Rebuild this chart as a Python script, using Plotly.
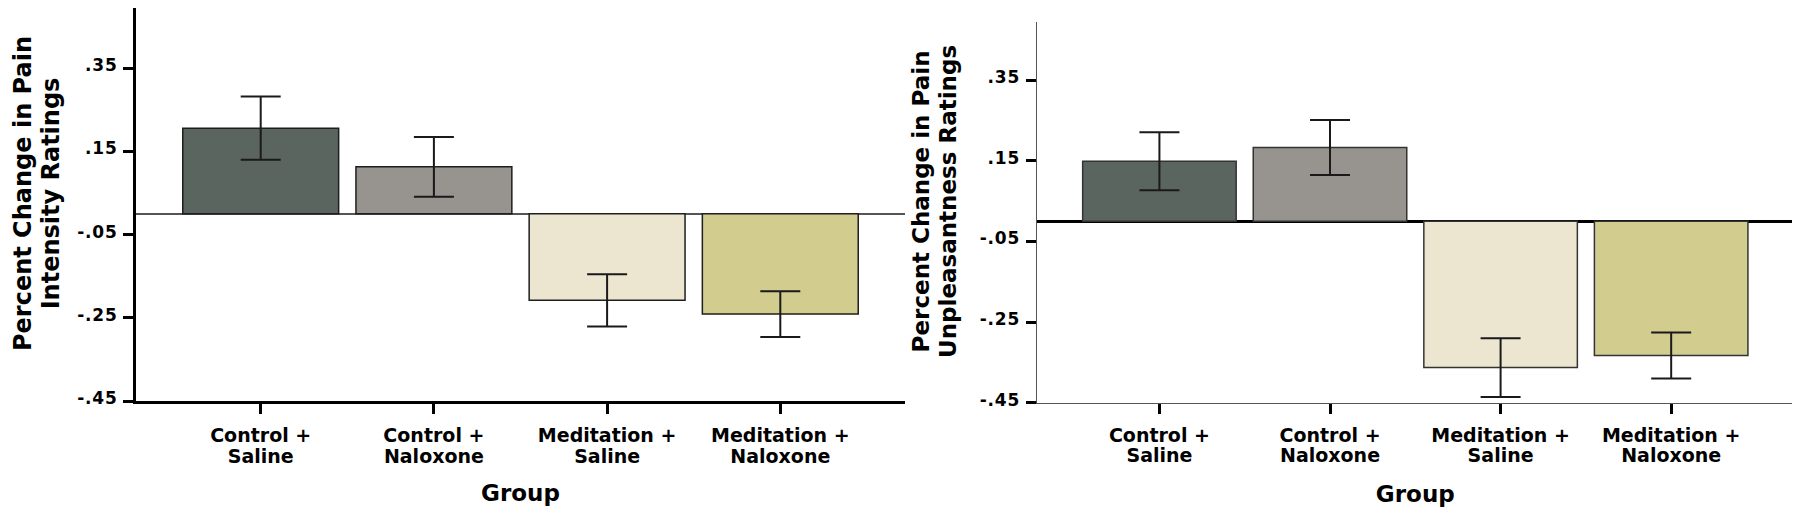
import plotly.graph_objects as go

# ---------------- data ----------------
categories = ["Control + Saline", "Control + Naloxone", "Meditation + Saline", "Meditation + Naloxone"]
tick_lines = [("Control +", "Saline"), ("Control +", "Naloxone"),
              ("Meditation +", "Saline"), ("Meditation +", "Naloxone")]
intensity_mean = [0.206, 0.113, -0.208, -0.241]
intensity_err = [0.076, 0.072, 0.063, 0.055]
unpleasant_mean = [0.149, 0.183, -0.363, -0.333]
unpleasant_err = [0.072, 0.068, 0.073, 0.057]
y_tickvals = [0.35, 0.15, -0.05, -0.25, -0.45]
y_ticktext = [".35", ".15", "-.05", "-.25", "-.45"]
bar_colors = ["#5b6560", "#97938f", "#ece6d0", "#d2cc8f"]
x_title = "Group"
y_title_left = ("Percent Change in Pain", "Intensity Ratings")
y_title_right = ("Percent Change in Pain", "Unpleasantness Ratings")

FONT = "DejaVu Sans, Verdana, sans-serif"


def sp(text, ls=0, size=None):
    fs = f"font-size:{size}px;" if size else ""
    return f"<span style='{fs}letter-spacing:{ls}px'><b>{text}</b></span>"


def lines(parts, ls=0, size=None):
    return "<br>".join(sp(p, ls, size) for p in parts)


xtick_text = [lines(t, 0, 19) for t in tick_lines]
ytick_text = [sp(t, 0.8, 17) for t in y_ticktext]

fig = go.Figure()
for i, (means, errs) in enumerate([(intensity_mean, intensity_err), (unpleasant_mean, unpleasant_err)]):
    fig.add_trace(go.Bar(
        x=categories, y=means,
        marker=dict(color=bar_colors, line=dict(color="#1e1e1e" if i == 0 else "#333333", width=1.5)),
        error_y=dict(type="data", array=errs, visible=True, color="#1a1a1a", thickness=2, width=20),
        xaxis="x" if i == 0 else "x2", yaxis="y" if i == 0 else "y2",
        showlegend=False,
    ))

# page body adds an 8px offset; work in screen coordinates and subtract it
OFF = 8
W, H = 1800 - OFF, 514 - OFF
ml, mr, mt, mb = 136 - OFF, 6, 0, 111
pw, ph = W - ml - mr, H - mt - mb


def xd(a, b):
    return [(a - OFF - ml) / pw, (b - OFF - ml) / pw]


def yd(top, bot):
    return [max(0, (H - mb - (bot - OFF)) / ph), min(1, (H - mb - (top - OFF)) / ph)]


def px(x):
    return (x - OFF - ml) / pw


def py(y):
    return (H - mb - (y - OFF)) / ph


xcommon = dict(
    type="category", range=[-0.72, 3.72], tickmode="array", tickvals=categories, ticktext=xtick_text,
    ticks="outside", ticklen=10, tickwidth=3, tickcolor="black", showgrid=False, zeroline=False,
    automargin=False, tickfont=dict(family=FONT, size=15.4, color="black"), ticklabelstandoff=10,
    title=dict(text=sp(x_title), font=dict(family=FONT, size=23, color="black"), standoff=20),
)
ycommon = dict(
    range=[-0.45, 0.495], tickmode="array", tickvals=y_tickvals, ticktext=ytick_text,
    ticks="outside", ticklen=10, tickwidth=3, tickcolor="black", showgrid=False,
    tickfont=dict(family=FONT, size=17, color="black"), automargin=False, ticklabelstandoff=2,
    ticklabelshift=-3,
)

fig.update_layout(
    width=W, height=H, margin=dict(l=ml, r=mr, t=mt, b=mb),
    plot_bgcolor="white", paper_bgcolor="white", bargap=0.1,
    font=dict(family=FONT, color="black"),
    xaxis=dict(**xcommon, domain=xd(136, 905), anchor="y", showline=True, linecolor="black", linewidth=3),
    xaxis2=dict(**xcommon, domain=xd(1036.6, 1794), anchor="y2", showline=True, linecolor="#555555", linewidth=1.2),
    yaxis=dict(**ycommon, domain=yd(7, 401), anchor="x", showline=True, linecolor="black", linewidth=3,
               zeroline=True, zerolinecolor="#555555", zerolinewidth=1.5),
    yaxis2=dict(**ycommon, domain=yd(21.7, 402.7), anchor="x2", showline=True, linecolor="#555555", linewidth=1.2,
                zeroline=True, zerolinecolor="black", zerolinewidth=3),
    annotations=[
        dict(text=lines(y_title_left, 0, 24), textangle=-90, xref="paper", yref="paper",
             x=px(37), y=py(194), xanchor="center", yanchor="middle", showarrow=False, borderpad=0,
             font=dict(family=FONT, size=21.5, color="black")),
        dict(text=lines(y_title_right, 0, 23), textangle=-90, xref="paper", yref="paper",
             x=px(935), y=py(202), xanchor="center", yanchor="middle", showarrow=False, borderpad=0,
             font=dict(family=FONT, size=20.8, color="black")),
    ],
)

fig.write_html("out.html")
